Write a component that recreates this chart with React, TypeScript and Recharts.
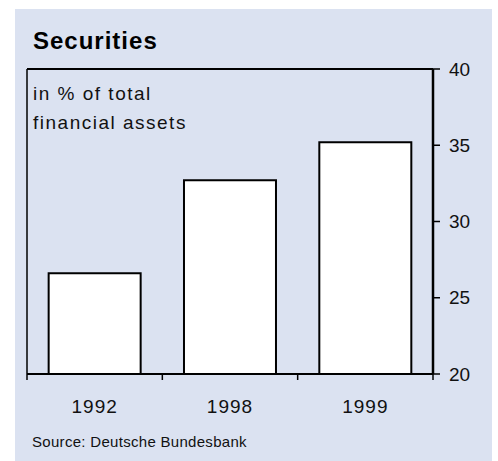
import { Bar, BarChart, ReferenceLine, XAxis, YAxis } from "recharts";

const years = ["1992", "1998", "1999"];
const shares = [26.6, 32.7, 35.2];
const yTicks = [20, 25, 30, 35, 40];

const FONT = '"Liberation Sans", Arial, sans-serif';
const PANEL_W = 477;
const PANEL_H = 452;

const data = years.map((year, i) => ({ year, share: shares[i] }));

// year label plus the small marks on the band edges (as in the original, ticks sit between categories)
function YearTick(props: any) {
  const { x, y, payload, index, visibleTicksCount } = props;
  const half = payload.offset ?? 0;
  const isLast = index === visibleTicksCount - 1;
  return (
    <g>
      <line x1={x - half} x2={x - half} y1={y} y2={y + 6} stroke="#000" strokeWidth={1.5} />
      {isLast && <line x1={x + half} x2={x + half} y1={y} y2={y + 6} stroke="#000" strokeWidth={1.5} />}
      <text
        x={x}
        y={y + 26}
        dy="0.71em"
        textAnchor="middle"
        fontSize={19}
        letterSpacing={1}
        fill="#111"
        fontFamily={FONT}
      >
        {payload.value}
      </text>
    </g>
  );
}

export default function App() {
  return (
    <div
      style={{
        position: "absolute",
        left: 15,
        top: 9,
        width: PANEL_W,
        height: PANEL_H,
        background: "#dbe2f1",
        fontFamily: FONT
      }}
    >
      <BarChart
        width={PANEL_W}
        height={PANEL_H}
        data={data}
        margin={{ top: 60, right: 9, left: 11, bottom: 37 }}
        barCategoryGap="16%"
      >
        <XAxis
          dataKey="year"
          height={50}
          interval={0}
          axisLine={{ stroke: "#000", strokeWidth: 2 }}
          tickLine={false}
          tickSize={0}
          tickMargin={0}
          tick={YearTick}
        />
        <YAxis
          yAxisId="l"
          orientation="left"
          width={1}
          domain={[20, 40]}
          tick={false}
          tickLine={false}
          axisLine={{ stroke: "#000", strokeWidth: 1.5 }}
        />
        <YAxis
          yAxisId="r"
          orientation="right"
          width={50}
          domain={[20, 40]}
          ticks={yTicks}
          allowDataOverflow
          tickSize={7}
          tickMargin={9}
          axisLine={{ stroke: "#000", strokeWidth: 2.5 }}
          tickLine={{ stroke: "#000", strokeWidth: 1.5 }}
          tick={{ fontSize: 19, fill: "#111", textAnchor: "start", fontFamily: FONT }}
        />
        <ReferenceLine yAxisId="r" y={40} stroke="#000" strokeWidth={2} />
        <Bar
          dataKey="share"
          yAxisId="r"
          fill="#ffffff"
          stroke="#000"
          strokeWidth={2}
          isAnimationActive={false}
        />
      </BarChart>
      <svg
        width={PANEL_W}
        height={PANEL_H}
        style={{ position: "absolute", left: 0, top: 0, pointerEvents: "none" }}
      >
        <text x={18} y={40} fontSize={24} fontWeight="bold" letterSpacing={1} fill="#000" fontFamily={FONT}>
          Securities
        </text>
        <text x={18} y={91} fontSize={19} letterSpacing={1.5} fill="#111" fontFamily={FONT}>
          in % of total
        </text>
        <text x={18} y={120} fontSize={19} letterSpacing={1.5} fill="#111" fontFamily={FONT}>
          financial assets
        </text>
        <text x={17} y={438} fontSize={15} letterSpacing={0.3} fill="#111" fontFamily={FONT}>
          Source: Deutsche Bundesbank
        </text>
      </svg>
    </div>
  );
}
